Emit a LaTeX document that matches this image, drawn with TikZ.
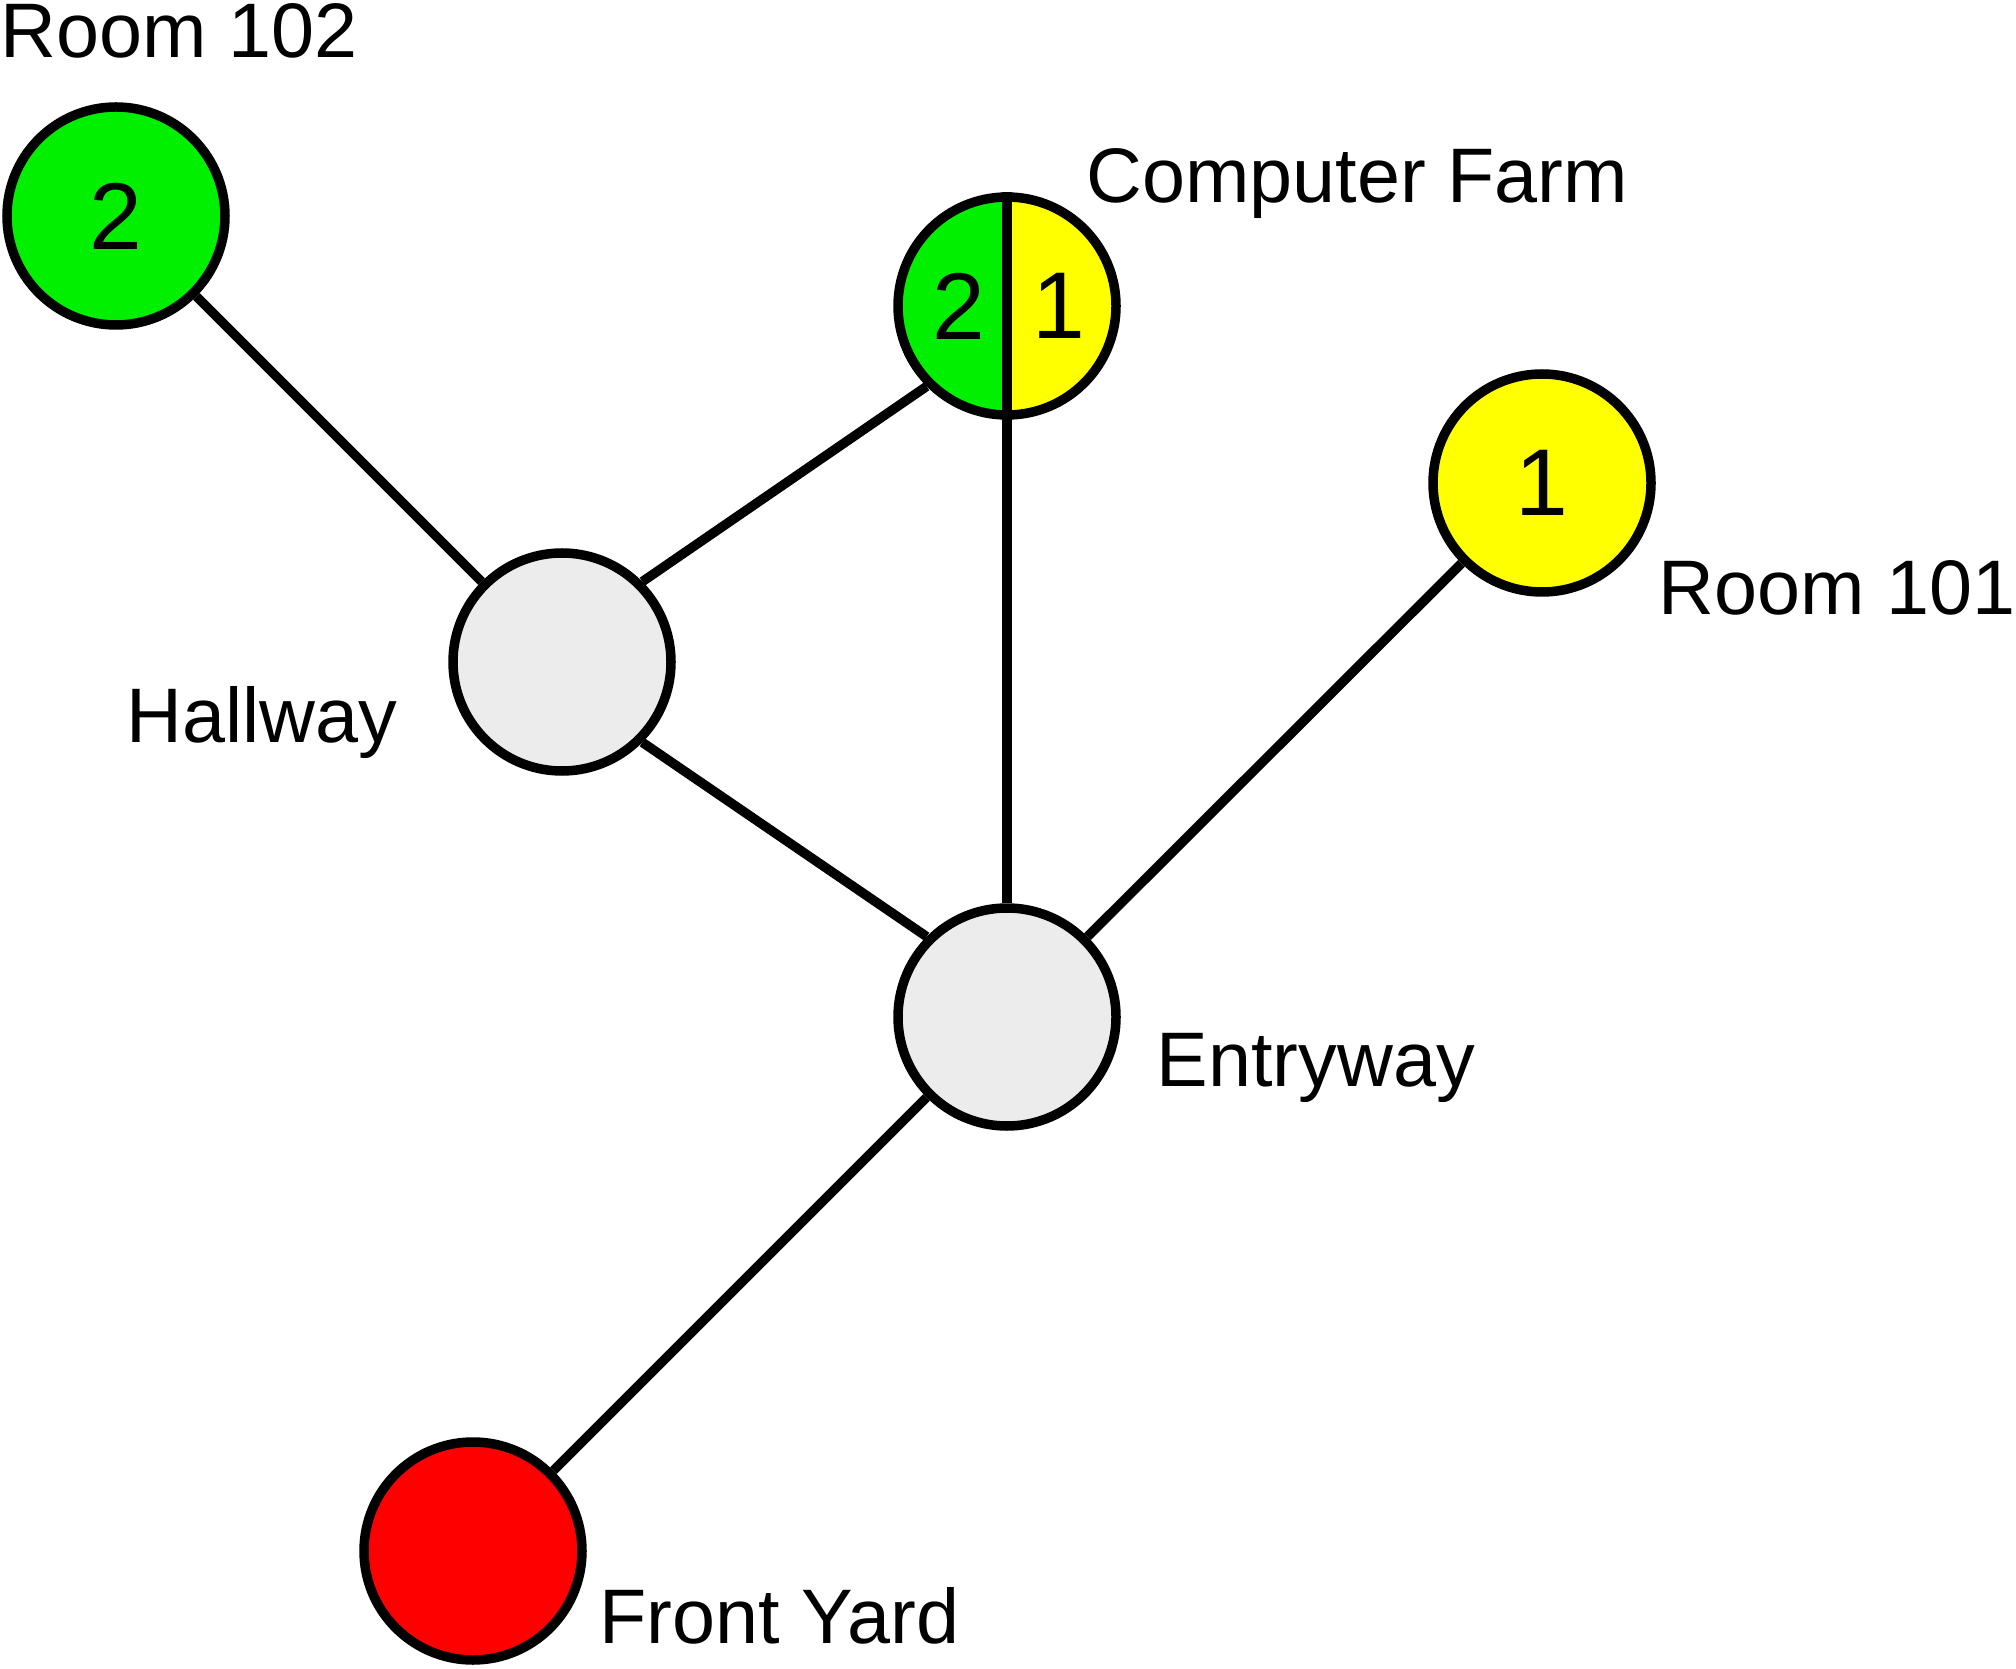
\documentclass[tikz,border=0pt]{standalone}
\usepackage{fontspec}
\setmainfont{Liberation Sans}
\usepackage{tikz}
\usetikzlibrary{positioning, calc}
\definecolor{GoColor}{RGB}{0,240,0}
\definecolor{WaitColor}{RGB}{255,255,0}
\definecolor{StopColor}{RGB}{255,0,0}
\definecolor{IdleColor}{RGB}{236,236,236}
\tikzset{
  room/.style={circle, draw=black, line width=0.095cm, minimum size=2.18cm, inner sep=0pt,
    font=\fontsize{27}{30}\selectfont},
  digit/.style={inner sep=0pt, font=\fontsize{27}{30}\selectfont},
  lbl/.style={inner sep=0pt, anchor=base west, font=\fontsize{22}{26}\selectfont},
  link/.style={line width=0.095cm, black}
}

\begin{document}
\begin{tikzpicture}
                \useasboundingbox (0,0) rectangle (20.16,16.68);

                % Rooms
                \node[room, fill=GoColor] (r102) at (1.16,14.52) {2};
                \node[room, path picture={
                    \fill[GoColor] (path picture bounding box.south west) rectangle (path picture bounding box.north);
                    \fill[WaitColor] (path picture bounding box.south) rectangle (path picture bounding box.north east);
                  }] (farm) at (10.07,13.62) {};
                \node[room, fill=WaitColor] (r101) at (15.42,11.85) {1};
                \node[room, fill=IdleColor] (hall) at (5.62,10.06) {};
                \node[room, fill=IdleColor] (entry) at (10.07,6.51) {};
                \node[room, fill=StopColor] (yard) at (4.73,1.17) {};

                % Split of the computer farm
                \draw[link] (farm.north) -- (farm.south);
                \node[digit] (farmA) at ([xshift=-0.48cm]farm.center) {2};
                \node[digit] (farmB) at ([xshift=0.52cm]farm.center) {1};

                % Links
                \draw[link] (r102) -- (hall);
                \draw[link] (hall.45) -- (farm.225);
                \draw[link] (hall.-45) -- (entry.135);
                \draw[link] (farm) -- (entry);
                \draw[link] (r101) -- (entry);
                \draw[link] (entry) -- (yard);

                % Labels
                \node[lbl] (r102lbl) at (0,16.10) {Room 102};
                \node[lbl] (farmlbl) at (10.86,14.65) {Computer Farm};
                \node[lbl] (r101lbl) at (16.58,10.53) {Room 101};
                \node[lbl] (halllbl) at (1.26,9.25) {Hallway};
                \node[lbl] (entrylbl) at (11.56,5.82) {Entryway};
                \node[lbl] (yardlbl) at (5.99,0.25) {Front Yard};
            \end{tikzpicture}
\end{document}
